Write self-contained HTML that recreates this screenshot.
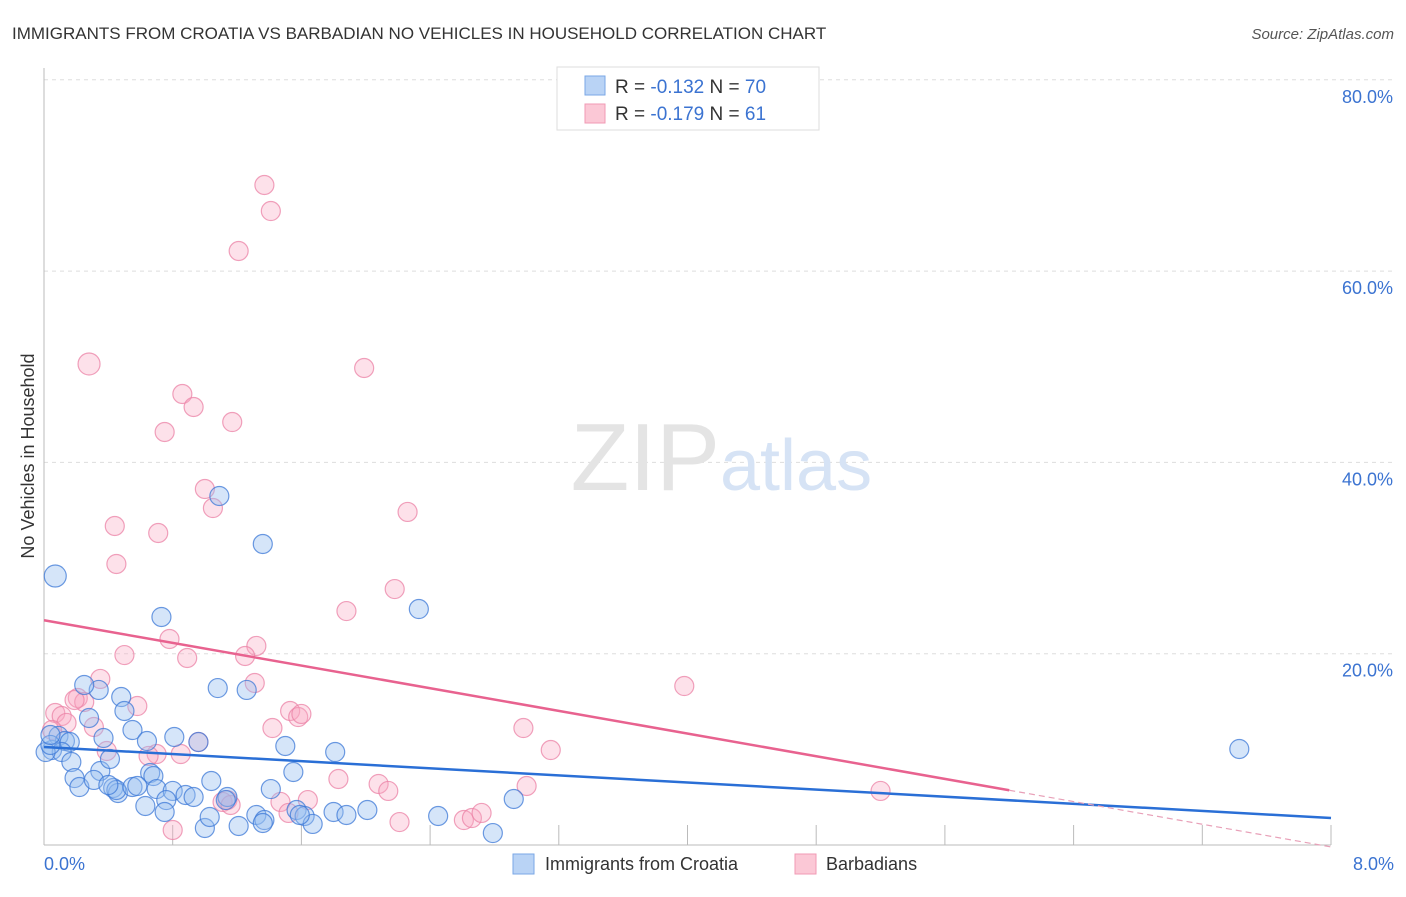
<!DOCTYPE html>
<html><head><meta charset="utf-8"><style>
body{margin:0;background:#fff;font-family:"Liberation Sans",sans-serif}
svg text{font-family:"Liberation Sans",sans-serif}
</style></head><body>
<svg width="1406" height="892">
<text x="12" y="39" font-size="17" fill="#333">IMMIGRANTS FROM CROATIA VS BARBADIAN NO VEHICLES IN HOUSEHOLD CORRELATION CHART</text>
<text x="1394" y="39" font-size="15" fill="#555" font-style="italic" text-anchor="end">Source: ZipAtlas.com</text>
<g id="grid"></g>
<text x="720" y="490" font-size="96" fill="#e4e4e4" font-family="Liberation Serif" text-anchor="end">ZIP</text>
<text x="720" y="490" font-size="72" fill="#d6e3f5">atlas</text>
<line x1="44" y1="68" x2="44" y2="845" stroke="#bbb"/>
<line x1="44" y1="845" x2="1331" y2="845" stroke="#bbb"/>
<text transform="translate(34,456) rotate(-90)" font-size="18" fill="#333" text-anchor="middle">No Vehicles in Household</text>
<g id="pts"></g>
<g id="trend"></g>
<rect x="557" y="67" width="262" height="63" fill="#fff" stroke="#ddd"/>
<rect x="585" y="76" width="20" height="19" fill="#b9d3f5" stroke="#7aa7e6"/>
<rect x="585" y="104" width="20" height="19" fill="#fbc8d6" stroke="#f09ab4"/>
<text x="615" y="93" font-size="19" fill="#333">R = <tspan fill="#3b73d1">-0.132</tspan>   N = <tspan fill="#3b73d1">70</tspan></text>
<text x="615" y="120" font-size="19" fill="#333">R = <tspan fill="#3b73d1">-0.179</tspan>   N =  <tspan fill="#3b73d1">61</tspan></text>
<text x="44" y="870" font-size="18" fill="#3b73d1">0.0%</text>
<text x="1394" y="870" font-size="18" fill="#3b73d1" text-anchor="end">8.0%</text>
<rect x="513" y="854" width="21" height="20" fill="#b9d3f5" stroke="#7aa7e6"/>
<text x="545" y="870" font-size="18" fill="#333">Immigrants from Croatia</text>
<rect x="795" y="854" width="21" height="20" fill="#fbc8d6" stroke="#f09ab4"/>
<text x="826" y="870" font-size="18" fill="#333">Barbadians</text>
</svg>
<script>
const yTicks=[20,40,60,80];
const xTicks=[0.8,1.6,2.4,3.2,4.0,4.8,5.6,6.4,7.2,8.0];
const blueX=[0.07,1.36,1.09,0.73,2.33,0.34,0.25,0.48,0.50,1.08,1.26,0.28,0.55,0.37,0.64,0.81,0.96,0.09,0.13,0.16,0.05,0.11,0.17,0.35,0.41,0.66,0.68,1.50,1.81,1.55,0.19,0.22,0.31,0.43,0.46,0.45,0.55,0.58,0.70,0.80,0.88,0.93,1.04,1.14,0.76,0.63,0.75,1.00,1.03,1.21,1.32,1.37,1.36,1.41,1.57,1.62,1.67,1.80,1.88,2.01,2.45,2.79,2.92,7.43,0.01,0.04,0.04,1.59,0.40,1.13];
const blueY=[28.12,31.47,36.49,23.84,24.67,16.21,16.73,15.47,14.01,16.41,16.21,13.28,12.02,11.19,10.87,11.29,10.77,11.40,10.87,10.77,9.93,9.72,8.68,7.74,8.99,7.53,7.21,10.35,9.72,7.63,7.00,6.06,6.80,5.96,5.44,5.75,6.06,6.17,5.85,5.65,5.23,5.02,6.69,5.02,4.70,4.08,3.45,1.78,2.93,1.99,3.14,2.61,2.30,5.85,3.66,3.03,2.20,3.45,3.14,3.66,3.03,1.25,4.81,10.04,9.72,10.46,11.50,3.14,6.27,4.70];
const pinkX=[1.37,1.41,1.21,0.28,1.99,0.86,0.93,0.75,1.17,1.00,1.05,2.26,0.44,0.71,0.45,2.18,1.88,0.78,1.32,0.50,1.25,0.89,1.31,0.35,3.98,0.21,0.25,0.19,0.58,1.53,1.58,1.60,0.07,0.11,0.31,0.14,0.05,1.42,2.98,0.39,0.70,0.65,0.85,0.96,3.15,1.83,2.08,2.14,3.00,1.47,1.64,1.14,1.11,1.16,1.52,2.61,2.66,2.72,2.21,0.80,5.20];
const pinkY=[69.0,66.28,62.10,50.29,49.87,47.15,45.79,43.18,44.22,37.22,35.23,34.82,33.35,32.62,29.38,26.76,24.46,21.54,20.81,19.86,19.76,19.55,16.94,17.36,16.62,15.37,14.95,15.16,14.53,14.01,13.38,13.70,13.80,13.49,12.34,12.76,12.02,12.23,12.23,9.83,9.51,9.31,9.51,10.77,9.93,6.90,6.38,5.65,6.17,4.50,4.70,4.70,4.50,4.18,3.35,2.61,2.82,3.35,2.40,1.57,5.65];
const blueTrend=[10.25,2.82];
const pinkTrend=[23.5,-0.2];
const pinkSolidEnd=6.0;
const NS='http://www.w3.org/2000/svg';
const sx=v=>44+v/8*1287, sy=v=>845-v/20*191.3;
function mk(t,a,p){const e=document.createElementNS(NS,t);for(const k in a)e.setAttribute(k,a[k]);p.appendChild(e);return e;}
const grid=document.getElementById('grid');
yTicks.forEach(t=>{
 const l=mk('line',{x1:44,x2:1394,y1:sy(t),y2:sy(t),stroke:'#ddd','stroke-dasharray':'4,4'},grid);
 
 
 const tx=mk('text',{x:1393,y:sy(t)+23,'font-size':18,fill:'#3b73d1','text-anchor':'end'},grid);
 tx.textContent=t.toFixed(1)+'%';
 
 
});
xTicks.forEach(t=>{
 const l=mk('line',{x1:sx(t),x2:sx(t),y1:825,y2:845,stroke:'#bbb'},grid);
 
 
});
const pts=document.getElementById('pts');
pinkX.forEach((x,i)=>{
 const c=mk('circle',{cx:sx(x),cy:sy(pinkY[i]),r:i==3?11:9.5,fill:'rgba(248,170,195,0.35)',stroke:'rgba(235,130,165,0.75)','stroke-width':1.2},pts);
 
 
});
blueX.forEach((x,i)=>{
 const c=mk('circle',{cx:sx(x),cy:sy(blueY[i]),r:i==0?11:9.5,fill:'rgba(150,190,240,0.4)',stroke:'rgba(60,120,215,0.75)','stroke-width':1.2},pts);
 
 
});
const tr=document.getElementById('trend');
const pAt=x=>pinkTrend[0]+(pinkTrend[1]-pinkTrend[0])*x/8;
let l=mk('line',{x1:sx(0),y1:sy(blueTrend[0]),x2:sx(8),y2:sy(blueTrend[1]),stroke:'#2a6fd6','stroke-width':2.5},tr);


l=mk('line',{x1:sx(0),y1:sy(pinkTrend[0]),x2:sx(pinkSolidEnd),y2:sy(pAt(pinkSolidEnd)),stroke:'#e8628f','stroke-width':2.5},tr);


l=mk('line',{x1:sx(pinkSolidEnd),y1:sy(pAt(pinkSolidEnd)),x2:sx(8),y2:sy(pinkTrend[1]),stroke:'#e8a0b8','stroke-width':1.2,'stroke-dasharray':'6,4'},tr);


</script>
</body></html>
